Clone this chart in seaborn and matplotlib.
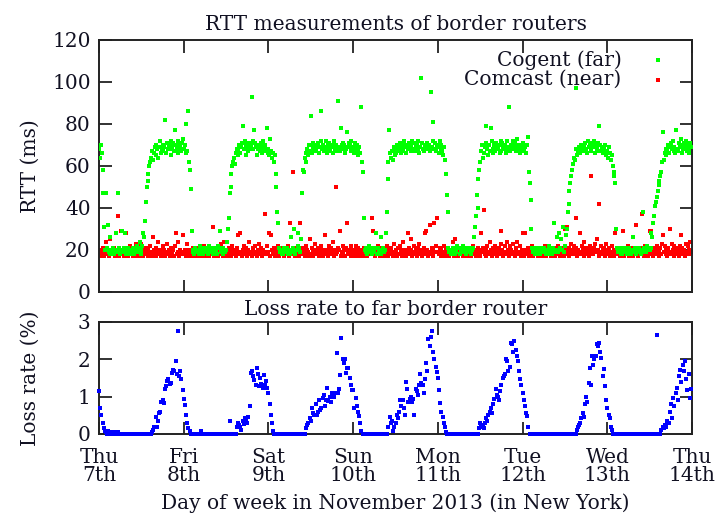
import numpy as np
import pandas as pd
import matplotlib
matplotlib.use("Agg")
import matplotlib.pyplot as plt
import seaborn as sns


day_labels = ["Thu\n7th", "Fri\n8th", "Sat\n9th", "Sun\n10th", "Mon\n11th", "Tue\n12th", "Wed\n13th", "Thu\n14th"]

# Cogent (far) RTT in ms, 15-minute samples, one list per day (00:00 .. 23:45)
cogent_thu = [68, 64, 70, 66, 58, 47, 31, 20, 47, 21, 32, 19, 18, 26, 20, 19,
              21, 18, 19, 28, 20, 47, 19, 21, 18, 20, 29, 19, 21, 28, 18, 20,
              19, 21, 18, 20, 20, 18, 21, 19, 18, 20, 19, 22, 21, 19, 24, 18,
              20, 22, 28, 26, 34, 43, 50, 53, 56, 60, 62, 64, 67, 63, 66, 69,
              65, 70, 68, 64, 69, 72, 66, 68, 70, 67, 69, 82, 66, 71, 68, 70,
              68, 65, 72, 69, 71, 67, 77, 70, 68, 72, 66, 70, 69, 67, 71, 73]
cogent_fri = [68, 70, 66, 80, 67, 86, 62, 58, 49, 29, 20, 19, 18, 21, 19, 20,
              20, 18, 22, 19, 19, 21, 18, 20, 21, 19, 20, 18, 18, 22, 19, 21,
              20, 18, 21, 19, 19, 20, 18, 22, 21, 29, 19, 20, 18, 21, 20, 19,
              20, 24, 30, 35, 47, 50, 56, 60, 62, 64, 61, 66, 68, 65, 67, 70,
              66, 69, 71, 79, 68, 72, 65, 70, 69, 67, 71, 68, 70, 93, 68, 72,
              77, 71, 69, 65, 68, 70, 67, 71, 69, 66, 72, 68, 70, 67, 78, 66]
cogent_sat = [68, 65, 73, 67, 64, 66, 62, 65, 56, 50, 38, 33, 21, 19, 20, 18,
              20, 18, 21, 19, 19, 21, 18, 20, 18, 20, 26, 19, 21, 30, 18, 20,
              20, 22, 28, 21, 19, 25, 47, 58, 57, 64, 62, 66, 68, 65, 70, 67,
              84, 66, 69, 71, 68, 70, 67, 69, 71, 66, 69, 72, 86, 68, 70, 67,
              69, 72, 66, 70, 68, 71, 67, 69, 70, 66, 72, 68, 67, 70, 69, 91,
              69, 67, 78, 70, 71, 68, 70, 66, 68, 76, 69, 71, 70, 67, 72, 68]
cogent_sun = [69, 66, 71, 68, 70, 67, 65, 69, 66, 88, 62, 57, 35, 20, 19, 21,
              18, 20, 22, 19, 20, 18, 19, 21, 19, 21, 28, 18, 21, 19, 20, 26,
              18, 20, 21, 19, 20, 28, 38, 54, 62, 77, 66, 64, 67, 63, 69, 65,
              68, 66, 70, 67, 69, 71, 66, 68, 70, 67, 72, 69, 66, 70, 68, 71,
              69, 67, 70, 72, 68, 71, 67, 69, 70, 68, 72, 66, 69, 102, 71, 68,
              67, 70, 68, 69, 71, 68, 70, 67, 95, 69, 81, 72, 68, 71, 67, 70]
cogent_mon = [69, 66, 72, 68, 70, 67, 65, 69, 63, 56, 46, 38, 21, 19, 20, 18,
              20, 21, 19, 18, 19, 20, 22, 21, 21, 18, 20, 19, 20, 22, 19, 21,
              18, 20, 21, 19, 19, 21, 18, 20, 21, 26, 31, 36, 46, 40, 54, 58,
              62, 67, 70, 64, 66, 69, 79, 71, 68, 65, 70, 67, 78, 72, 66, 68,
              70, 67, 71, 69, 68, 70, 66, 72, 67, 71, 69, 68, 70, 66, 72, 69,
              68, 88, 67, 70, 69, 72, 68, 71, 67, 70, 73, 68, 70, 66, 69, 67]
cogent_tue = [68, 71, 67, 69, 66, 70, 74, 57, 52, 44, 30, 21, 19, 20, 18, 21,
              20, 19, 21, 18, 18, 21, 20, 19, 21, 19, 18, 20, 19, 20, 22, 18,
              20, 18, 21, 19, 33, 19, 20, 26, 19, 28, 21, 20, 25, 20, 31, 19,
              22, 27, 30, 38, 42, 48, 52, 55, 58, 61, 64, 63, 97, 68, 65, 67,
              69, 66, 70, 68, 67, 70, 69, 71, 68, 66, 72, 69, 70, 67, 68, 71,
              69, 72, 66, 70, 68, 71, 79, 67, 70, 67, 69, 66, 68, 70, 65, 67]
cogent_wed = [67, 64, 69, 66, 63, 65, 60, 57, 55, 52, 30, 21, 19, 20, 21, 18,
              20, 18, 19, 21, 21, 20, 18, 19, 19, 21, 20, 18, 20, 26, 19, 21,
              18, 21, 19, 20, 21, 20, 18, 19, 38, 19, 21, 20, 19, 22, 20, 21,
              20, 28, 21, 26, 33, 36, 41, 43, 45, 48, 51, 53, 55, 57, 62, 76,
              63, 66, 68, 65, 67, 70, 66, 69, 71, 68, 72, 67, 69, 66, 77, 68,
              67, 71, 69, 73, 70, 66, 68, 71, 69, 72, 67, 70, 68, 66, 71, 69]

# Comcast (near) RTT in ms, 15-minute samples
comcast_thu = [18, 20, 17, 19, 21, 18, 17, 20, 24, 18, 19, 17, 25, 20, 18, 19,
               18, 21, 17, 19, 20, 18, 36, 17, 19, 29, 18, 20, 17, 19, 28, 18,
               19, 17, 20, 22, 18, 19, 17, 21, 20, 18, 23, 17, 19, 20, 18, 17,
               23, 19, 17, 20, 18, 21, 19, 17, 20, 18, 22, 19, 17, 26, 20, 18,
               21, 17, 19, 24, 18, 20, 17, 19, 22, 18, 20, 17, 19, 23, 18, 20,
               17, 19, 21, 18, 20, 17, 22, 28, 18, 19, 24, 17, 20, 18, 19, 27]
comcast_fri = [18, 20, 17, 19, 23, 18, 20, 17, 19, 18, 21, 17, 20, 18, 19, 17,
               19, 21, 18, 17, 20, 18, 19, 22, 17, 20, 18, 19, 21, 17, 18, 20,
               19, 31, 17, 20, 18, 19, 21, 17, 20, 18, 23, 19, 17, 20, 24, 18,
               20, 17, 19, 21, 18, 20, 17, 22, 19, 18, 20, 17, 21, 19, 27, 18,
               28, 19, 17, 20, 22, 18, 19, 21, 17, 20, 24, 18, 19, 17, 21, 20,
               18, 22, 19, 17, 20, 23, 18, 19, 21, 17, 20, 18, 37, 19, 22, 18]
comcast_sat = [19, 28, 17, 27, 20, 18, 21, 17, 19, 20, 18, 22, 17, 19, 18, 20,
               21, 18, 17, 19, 20, 18, 22, 17, 33, 19, 20, 18, 57, 21, 17, 19,
               20, 18, 19, 17, 33, 20, 18, 21, 19, 17, 22, 18, 20, 19, 17, 25,
               18, 21, 19, 17, 20, 23, 18, 19, 21, 17, 20, 22, 18, 19, 17, 20,
               27, 18, 20, 19, 17, 22, 18, 21, 19, 24, 17, 20, 18, 50, 19, 21,
               20, 29, 17, 19, 22, 18, 20, 17, 21, 33, 19, 18, 20, 22, 17, 19]
comcast_sun = [18, 20, 17, 22, 19, 18, 21, 17, 20, 19, 18, 17, 21, 20, 18, 19,
               17, 20, 18, 19, 21, 35, 18, 29, 20, 17, 19, 18, 22, 20, 17, 19,
               18, 21, 19, 17, 20, 18, 22, 19, 17, 20, 18, 21, 19, 17, 23, 18,
               20, 19, 17, 21, 18, 22, 20, 17, 19, 24, 18, 20, 17, 19, 28, 21,
               18, 20, 25, 17, 19, 22, 18, 20, 17, 21, 19, 23, 18, 20, 17, 19,
               21, 28, 18, 29, 20, 17, 19, 32, 18, 21, 20, 17, 33, 19, 22, 35]
comcast_mon = [19, 18, 21, 17, 20, 19, 18, 22, 17, 20, 19, 18, 21, 17, 19, 20,
               18, 24, 17, 25, 19, 20, 18, 17, 21, 19, 18, 20, 17, 22, 19, 18,
               20, 17, 19, 21, 18, 20, 17, 19, 22, 18, 20, 17, 19, 21, 18, 20,
               17, 28, 19, 21, 39, 18, 20, 17, 22, 19, 18, 24, 20, 17, 21, 19,
               18, 22, 20, 17, 19, 21, 18, 23, 29, 20, 17, 19, 22, 18, 24, 20,
               19, 17, 22, 20, 18, 23, 19, 17, 21, 20, 24, 18, 19, 22, 17, 20]
comcast_tue = [28, 19, 17, 28, 20, 18, 21, 17, 19, 20, 18, 22, 17, 19, 18, 20,
               19, 17, 20, 18, 21, 19, 17, 20, 18, 22, 19, 17, 20, 18, 19, 21,
               17, 20, 18, 19, 21, 17, 20, 18, 22, 19, 17, 20, 18, 21, 19, 17,
               30, 20, 31, 18, 21, 17, 19, 23, 20, 18, 22, 19, 35, 21, 17, 20,
               19, 28, 18, 22, 20, 17, 24, 19, 21, 18, 20, 17, 22, 19, 55, 20,
               18, 21, 23, 19, 25, 20, 17, 42, 19, 22, 18, 20, 21, 17, 23, 19]
comcast_wed = [20, 18, 21, 17, 19, 22, 18, 20, 17, 28, 19, 21, 18, 20, 17, 19,
               21, 18, 29, 17, 20, 19, 18, 22, 17, 20, 19, 18, 21, 17, 20, 19,
               18, 32, 20, 17, 19, 21, 18, 37, 20, 17, 19, 22, 18, 20, 17, 19,
               29, 18, 29, 20, 17, 21, 19, 18, 22, 20, 17, 19, 21, 18, 23, 27,
               19, 22, 18, 20, 17, 21, 19, 30, 18, 23, 20, 17, 22, 19, 21, 18,
               20, 17, 22, 19, 27, 21, 18, 20, 17, 23, 19, 22, 18, 20, 24, 19]

# loss rate to far border router in %, 20-minute samples
loss_thu = [1.15, 0.70, 0.52, 0.30, 0.15, 0.08, 0.05, 0.00, 0.07, 0.00, 0.05, 0.00,
            0.00, 0.06, 0.00, 0.00, 0.05, 0.00, 0.00, 0.00, 0.00, 0.00, 0.00, 0.00,
            0.00, 0.00, 0.00, 0.00, 0.00, 0.00, 0.00, 0.00, 0.00, 0.00, 0.00, 0.00,
            0.00, 0.00, 0.00, 0.00, 0.00, 0.00, 0.00, 0.00, 0.00, 0.05, 0.10, 0.20,
            0.45, 0.20, 0.35, 0.55, 0.60, 0.85, 0.92, 0.83, 1.20, 1.28, 1.41, 1.47,
            1.35, 1.37, 1.63, 1.72, 1.70, 1.95, 1.60, 2.75, 1.54, 1.68, 1.46, 1.19]
loss_fri = [0.95, 0.77, 0.52, 0.29, 0.16, 0.07, 0.00, 0.00, 0.00, 0.00, 0.00, 0.00,
            0.00, 0.00, 0.00, 0.08, 0.00, 0.00, 0.00, 0.00, 0.00, 0.00, 0.00, 0.00,
            0.00, 0.00, 0.00, 0.00, 0.00, 0.00, 0.00, 0.00, 0.00, 0.00, 0.00, 0.00,
            0.00, 0.00, 0.00, 0.36, 0.00, 0.00, 0.00, 0.00, 0.00, 0.20, 0.30, 0.25,
            0.20, 0.10, 0.35, 0.28, 0.43, 0.40, 0.30, 0.45, 0.74, 1.63, 1.70, 1.54,
            1.45, 1.30, 1.77, 1.60, 1.28, 1.50, 1.35, 1.23, 1.59, 1.30, 1.41, 1.23]
loss_sat = [1.10, 0.79, 0.50, 0.30, 0.07, 0.00, 0.00, 0.00, 0.00, 0.00, 0.00, 0.00,
            0.00, 0.00, 0.00, 0.00, 0.00, 0.00, 0.00, 0.00, 0.00, 0.00, 0.00, 0.00,
            0.00, 0.00, 0.00, 0.00, 0.00, 0.00, 0.00, 0.00, 0.16, 0.25, 0.30, 0.43,
            0.35, 0.70, 0.56, 0.50, 0.80, 0.52, 0.60, 0.92, 0.65, 0.70, 0.96, 1.05,
            0.74, 0.90, 1.23, 0.88, 1.00, 0.85, 1.10, 1.03, 1.00, 1.10, 2.17, 1.10,
            1.20, 1.59, 2.57, 2.00, 1.90, 2.00, 1.63, 1.77, 1.77, 1.50, 1.32, 1.19]
loss_sun = [1.19, 0.70, 0.96, 0.75, 0.60, 0.47, 0.30, 0.07, 0.00, 0.00, 0.00, 0.00,
            0.00, 0.00, 0.00, 0.00, 0.00, 0.00, 0.00, 0.00, 0.00, 0.00, 0.00, 0.00,
            0.00, 0.00, 0.00, 0.00, 0.00, 0.00, 0.20, 0.45, 0.30, 0.35, 0.07, 0.20,
            0.30, 0.52, 0.43, 0.60, 0.90, 0.75, 0.92, 0.70, 0.52, 1.40, 1.20, 0.85,
            0.95, 1.00, 0.87, 0.95, 0.52, 1.20, 1.15, 1.05, 1.30, 1.60, 1.37, 1.30,
            1.10, 1.46, 1.90, 1.70, 2.55, 2.35, 2.60, 2.75, 2.20, 2.00, 1.80, 1.65]
loss_mon = [1.50, 1.19, 0.83, 0.60, 0.45, 0.30, 0.20, 0.05, 0.00, 0.00, 0.00, 0.00,
            0.00, 0.00, 0.00, 0.00, 0.00, 0.00, 0.00, 0.00, 0.00, 0.00, 0.00, 0.00,
            0.00, 0.00, 0.00, 0.00, 0.00, 0.00, 0.00, 0.00, 0.00, 0.00, 0.00, 0.15,
            0.30, 0.20, 0.25, 0.15, 0.30, 0.43, 0.35, 0.50, 0.60, 0.70, 0.55, 0.80,
            0.95, 1.20, 1.05, 1.00, 0.92, 1.15, 1.30, 1.50, 1.55, 1.60, 2.00, 1.95,
            1.68, 1.80, 2.45, 2.40, 2.20, 2.48, 2.26, 2.10, 1.95, 1.70, 1.46, 1.32]
loss_tue = [1.10, 0.90, 0.74, 0.55, 0.47, 0.20, 0.00, 0.00, 0.00, 0.00, 0.00, 0.00,
            0.00, 0.00, 0.00, 0.00, 0.00, 0.00, 0.00, 0.00, 0.00, 0.00, 0.00, 0.00,
            0.00, 0.00, 0.00, 0.00, 0.00, 0.00, 0.00, 0.00, 0.00, 0.00, 0.00, 0.00,
            0.00, 0.00, 0.00, 0.00, 0.00, 0.00, 0.00, 0.00, 0.00, 0.00, 0.10, 0.20,
            0.25, 0.30, 0.43, 0.56, 0.45, 0.79, 1.00, 0.85, 1.37, 1.77, 1.30, 2.10,
            1.86, 2.00, 2.08, 2.40, 2.35, 2.44, 2.20, 2.04, 1.55, 1.75, 1.28, 0.92]
loss_wed = [0.70, 0.50, 0.43, 0.20, 0.10, 0.00, 0.00, 0.00, 0.00, 0.00, 0.00, 0.00,
            0.00, 0.00, 0.00, 0.00, 0.00, 0.00, 0.00, 0.00, 0.00, 0.00, 0.00, 0.00,
            0.00, 0.00, 0.00, 0.00, 0.00, 0.00, 0.00, 0.00, 0.00, 0.00, 0.00, 0.00,
            0.00, 0.00, 0.00, 0.00, 0.00, 0.00, 2.66, 0.00, 0.00, 0.00, 0.10, 0.20,
            0.15, 0.25, 0.20, 0.35, 0.30, 0.60, 0.79, 0.43, 0.96, 0.75, 1.10, 1.23,
            0.90, 1.55, 1.72, 1.40, 1.86, 1.68, 1.95, 1.46, 1.19, 1.60, 0.96, 1.20]

cogent_days = [cogent_thu, cogent_fri, cogent_sat, cogent_sun, cogent_mon, cogent_tue, cogent_wed]
comcast_days = [comcast_thu, comcast_fri, comcast_sat, comcast_sun, comcast_mon, comcast_tue, comcast_wed]
loss_days = [loss_thu, loss_fri, loss_sat, loss_sun, loss_mon, loss_tue, loss_wed]


def to_frame(day_lists):
    rows = []
    for day, vals in enumerate(day_lists):
        step = 24 / len(vals)
        for i, v in enumerate(vals):
            rows.append((day * 24 + i * step, v))
    return pd.DataFrame(rows, columns=["hour", "value"])


cogent = to_frame(cogent_days)
comcast = to_frame(comcast_days)
loss = to_frame(loss_days)

sns.set_theme(style="ticks")
plt.rcParams["font.family"] = ["DejaVu Serif"]
plt.rcParams["axes.linewidth"] = 1.4
plt.rcParams["axes.edgecolor"] = "#222222"
plt.rcParams["text.color"] = "#111122"
plt.rcParams["axes.labelcolor"] = "#111122"
plt.rcParams["xtick.color"] = "#222222"
plt.rcParams["ytick.color"] = "#222222"
plt.rcParams["xtick.labelcolor"] = "#111122"
plt.rcParams["ytick.labelcolor"] = "#111122"

FS = 14.5
fig = plt.figure(figsize=(7.15, 5.18), dpi=100)
ax1 = fig.add_axes([0.1385, 0.4363, 0.8294, 0.4865])
ax2 = fig.add_axes([0.1385, 0.1622, 0.8294, 0.2162])

sns.scatterplot(data=comcast, x="hour", y="value", ax=ax1, color="#ff0000", marker="s",
                s=8, linewidth=0, label="Comcast (near)", zorder=2)
sns.scatterplot(data=cogent, x="hour", y="value", ax=ax1, color="#00ff00", marker="s",
                s=8, linewidth=0, label="Cogent (far)", zorder=3)
sns.scatterplot(data=loss, x="hour", y="value", ax=ax2, color="#0000ff", marker="s",
                s=9, linewidth=0, legend=False, zorder=3, clip_on=False)

for ax in (ax1, ax2):
    ax.set_xlim(0, 168)
    ax.set_xticks(np.arange(0, 169, 24))
    ax.tick_params(direction="in", length=9, width=1.3, top=True, right=True,
                   labelsize=FS, pad=6)
    ax.set_xlabel("")
    ax.yaxis.set_label_coords(-0.10, 0.5)

ax1.set_ylim(0, 120)
ax1.set_yticks(np.arange(0, 121, 20))
ax1.tick_params(labelbottom=False)
ax1.set_ylabel("RTT (ms)", fontsize=FS)
ax1.set_title("RTT measurements of border routers", fontsize=FS, pad=7)

ax2.set_ylim(0, 3)
ax2.set_yticks([0, 1, 2, 3])
ax2.tick_params(axis="x", pad=10)
ax2.set_xticklabels(day_labels)
for lbl in ax2.get_xticklabels():
    lbl.set_linespacing(0.95)
ax2.set_ylabel("Loss rate (%)", fontsize=FS)
ax2.set_xlabel("Day of week in November 2013 (in New York)", fontsize=FS, labelpad=6)
ax2.set_title("Loss rate to far border router", fontsize=FS, pad=5)

handles, labels = ax1.get_legend_handles_labels()
order = [labels.index("Cogent (far)"), labels.index("Comcast (near)")]
ax1.legend([handles[i] for i in order], [labels[i] for i in order], loc="upper right",
           frameon=False, markerfirst=False, fontsize=FS, handlelength=2.4,
           handletextpad=0.6, labelspacing=0.02, borderaxespad=0.1, markerscale=1.0)

fig.savefig("out.png", dpi=100)
